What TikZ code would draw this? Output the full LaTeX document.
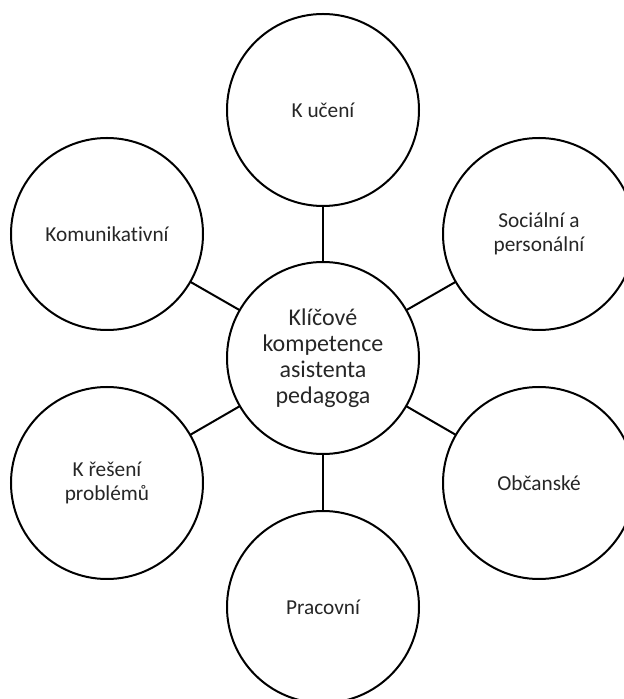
\documentclass[tikz,border=0pt]{standalone}
\usepackage{fontspec}
\setmainfont{Carlito}[Ligatures=NoCommon]
\begin{document}
\begin{tikzpicture}[x=1pt,y=1pt,
  comp/.style={circle,draw=black,line width=2pt,minimum size=192pt,inner sep=0pt,outer sep=0pt,
    align=center,font=\fontsize{21.3}{23.5}\selectfont,text=black!85},
  hub/.style={comp,font=\fontsize{24}{26}\selectfont},
  link/.style={draw=black,line width=2pt}]
\useasboundingbox (0,0) rectangle (624,699);
\node[hub] (c) at (323,341) {Klíčové\\kompetence\\asistenta\\pedagoga};
\node[comp] (t) at (323,589) {K učení};
\node[comp] (ru) at (539,465) {Sociální a\\personální};
\node[comp] (rl) at (539,216) {Občanské};
\node[comp] (b) at (323,92) {Pracovní};
\node[comp] (ll) at (107,216) {K řešení\\problémů};
\node[comp] (lu) at (107,465) {Komunikativní};
\foreach \n in {t,ru,rl,b,ll,lu} \draw[link] (c) -- (\n);
\end{tikzpicture}
\end{document}
